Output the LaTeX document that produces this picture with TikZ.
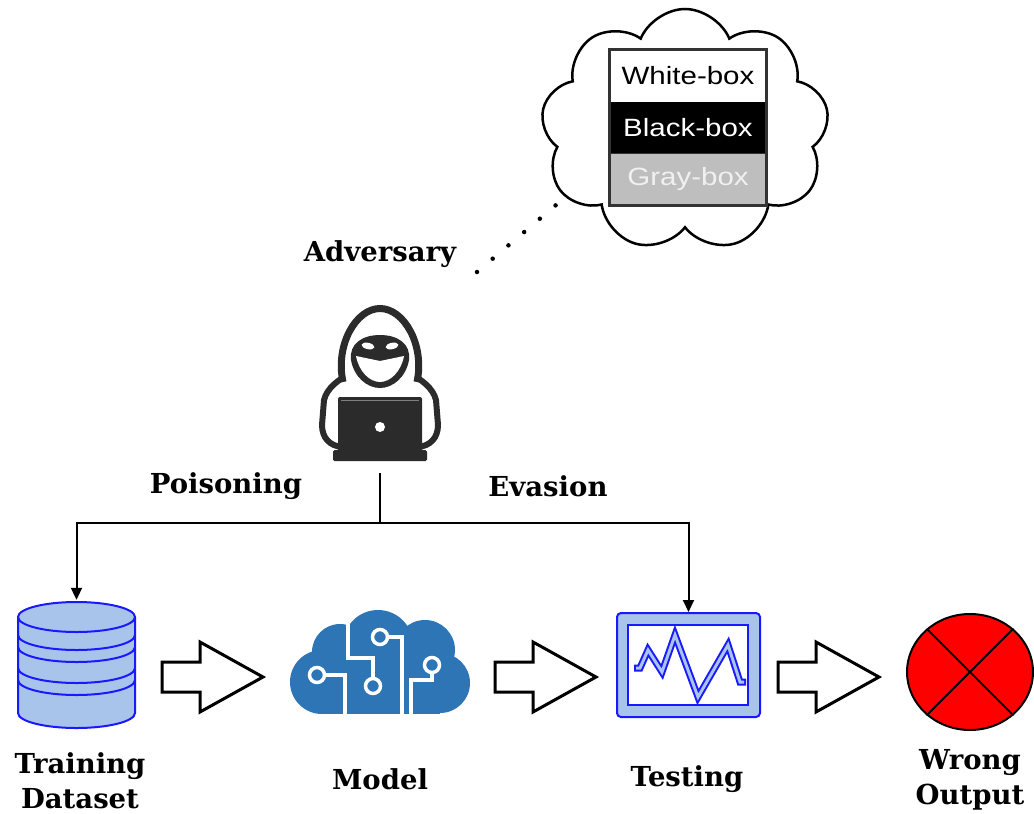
\documentclass[tikz,border=0pt]{standalone}
\usepackage{fontspec}
\usetikzlibrary{arrows.meta,shapes.symbols,shapes.geometric}
\newfontfamily\labelfont{DejaVu Serif}
\newfontfamily\tierfont[FakeStretch=1.18]{Liberation Sans}
\definecolor{hoodgray}{RGB}{43,43,43}
\definecolor{brainblue}{RGB}{46,117,182}
\definecolor{paleblue}{RGB}{169,196,235}
\definecolor{strokeblue}{RGB}{25,25,255}
\definecolor{tiergray}{RGB}{190,190,190}
\definecolor{tierborder}{RGB}{51,51,51}
\tikzset{
  lbl/.style={font=\labelfont\bfseries\fontsize{27.5}{35}\selectfont, align=center, inner sep=0},
  tier/.style={minimum width=156, minimum height=51.7, inner sep=0, font=\tierfont\fontsize{25}{30}\selectfont},
  conn/.style={line width=2, draw=black},
  tip/.style={-{Triangle[width=11pt,length=12pt]}},
  blockarrow/.pic={
    \draw[line width=3, fill=white, line join=miter]
      (0,-15) -- (38,-15) -- (38,-35) -- (101,0) -- (38,35) -- (38,15) -- (0,15) -- cycle;
  },
}
\begin{document}
\begin{tikzpicture}[x=1pt,y=-1pt]
\fill[white] (0,0) rectangle (1034,814);
\useasboundingbox (0,0) rectangle (1034,814);

% thought cloud with the three knowledge levels
\node[cloud, draw=black, line width=2.5, fill=white, cloud puffs=9, cloud puff arc=135,
      aspect=1.2, minimum width=288, minimum height=242, inner sep=0] (thought) at (685,130) {};
\node[tier, fill=white, text=black] (wb) at (688,75.8) {White-box};
\node[tier, fill=black, text=white] (bb) at (688,127.5) {Black-box};
\node[tier, fill=tiergray, text=white!94!black] (gb) at (688,179.2) {Gray-box};
\draw[tierborder, line width=1] (bb.south west) -- (bb.south east);
\draw[tierborder, line width=3] (wb.north west) rectangle (gb.south east);

% dotted trail from the adversary to the cloud
\coordinate (trailA) at (477,272);
\coordinate (trailB) at (556,205);
\draw[line width=4.5, line cap=round, dash pattern=on 0pt off 20.6pt] (trailA) -- (trailB);

\node[lbl] (adv) at (380,254) {Adversary};

% hooded figure with laptop
\node[minimum width=124, minimum height=168, inner sep=0] (hacker) at (380,389) {};
\begin{scope}
  \draw[hoodgray, fill=white, line width=6, line join=round]
    (352,372) .. controls (338,380) and (327,388) .. (324,400) -- (322,425)
    .. controls (322,438) and (330,446) .. (342,447) -- (418,447)
    .. controls (430,446) and (438,438) .. (438,425) -- (436,400)
    .. controls (433,388) and (422,380) .. (408,372) -- cycle;
  \draw[hoodgray, fill=white, line width=7]
    (343,382) .. controls (335,345) and (356,308.5) .. (380,308.5)
    .. controls (404,308.5) and (425,345) .. (417,382);
  \fill[hoodgray] (351,360) .. controls (349,344) and (362,335) .. (380,335)
    .. controls (398,335) and (411,344) .. (409,360)
    .. controls (406,377) and (393,388) .. (380,388)
    .. controls (367,388) and (354,377) .. (351,360) -- cycle;
  \fill[white] (356,356) -- (380,361) -- (404,356)
    .. controls (401,372) and (390,382) .. (380,382)
    .. controls (370,382) and (359,372) .. (356,356) -- cycle;
  \fill[white, rotate around={-12:(368,346)}] (368,346) ellipse [x radius=6.5, y radius=3.2];
  \fill[white, rotate around={12:(392,346)}] (392,346) ellipse [x radius=6.5, y radius=3.2];
  \fill[hoodgray, rounded corners=2] (338,397) rectangle (422,452);
  \fill[hoodgray, rounded corners=1.5] (333,450) rectangle (427,461);
  \draw[gray, line width=1] (341,400.5) -- (419,400.5);
  \fill[white] (380,427) circle (5);
\end{scope}

% attack paths
\coordinate (fork) at (380,523);
\node[lbl] (poison) at (226,486) {Poisoning};
\node[lbl] (evasion) at (548,486) {Evasion};

% training dataset
\node[minimum width=117, minimum height=130, inner sep=0] (db) at (76.5,665) {};
\begin{scope}[strokeblue, line width=2]
  \filldraw[fill=paleblue] (18,617) -- (18,713) arc[start angle=180, end angle=360, x radius=58.5, y radius=-15]
    -- (135,617) arc[start angle=0, end angle=180, x radius=58.5, y radius=-15] -- cycle;
  \draw (18,617) arc[start angle=180, end angle=360, x radius=58.5, y radius=-15];
  \draw (18,635) arc[start angle=180, end angle=360, x radius=58.5, y radius=-15];
  \draw (18,647) arc[start angle=180, end angle=360, x radius=58.5, y radius=-15];
  \draw (18,668) arc[start angle=180, end angle=360, x radius=58.5, y radius=-15];
  \draw (18,680) arc[start angle=180, end angle=360, x radius=58.5, y radius=-15];
\end{scope}

% model
\node[minimum width=180, minimum height=105, inner sep=0] (model) at (380,662) {};
\begin{scope}
  \fill[brainblue] (322,682) circle (32);
  \fill[brainblue] (340,652) circle (28);
  \fill[brainblue] (378,645) circle (35);
  \fill[brainblue] (425,650) circle (30);
  \fill[brainblue] (440,683) circle (30);
  \fill[brainblue] (322,660) rectangle (440,714);
  \begin{scope}[white, line width=3.5]
    \draw (348,606) -- (348,658) -- (373,658) -- (373,678);
    \draw (325,675) -- (345,675) -- (345,716);
    \draw (388,637) -- (402,637) -- (402,716);
    \draw (432,673) -- (432,680) -- (411,680) -- (411,716);
    \filldraw[fill=brainblue] (317,675) circle (7.5);
    \filldraw[fill=brainblue] (373,686) circle (7.5);
    \filldraw[fill=brainblue] (380,637) circle (7.5);
    \filldraw[fill=brainblue] (432,665) circle (7.5);
  \end{scope}
\end{scope}

% testing monitor
\node[draw=strokeblue, fill=paleblue, line width=2, rounded corners=4, minimum width=143,
      minimum height=104, inner sep=0] (test) at (688.5,665) {};
\node[draw=strokeblue, fill=white, line width=2, minimum width=120, minimum height=80,
      inner sep=0] (screen) at (688,665) {};
\draw[strokeblue, line width=7, line join=miter]
  (634,668) -- (640,668) -- (648,650) -- (662,672) -- (675,635) -- (698,697) -- (728,645) -- (740,682) -- (746,682);
\draw[paleblue, line width=3, line join=miter, shorten <=2, shorten >=2]
  (634,668) -- (640,668) -- (648,650) -- (662,672) -- (675,635) -- (698,697) -- (728,645) -- (740,682) -- (746,682);

% wrong output
\node[ellipse, draw=black, line width=2, fill=red, minimum width=126, minimum height=116,
      inner sep=0] (wrong) at (970,672) {};
\draw[line width=2] (wrong.135) -- (wrong.-45);
\draw[line width=2] (wrong.45) -- (wrong.-135);

% attack connectors
\draw[conn] (hacker.south) -- (fork);
\draw[conn, tip] (fork) -| (db.north);
\draw[conn, tip] (fork) -| (test.north);

% flow arrows
\pic at (162,677) {blockarrow};
\pic at (495,677) {blockarrow};
\pic at (778,677) {blockarrow};

% captions
\node[lbl] (dblbl) at (80,781) {Training\\Dataset};
\node[lbl] (modellbl) at (380,779) {Model};
\node[lbl] (testlbl) at (687,779) {Testing};
\node[lbl] (wronglbl) at (970,780) {Wrong\\Output};
\end{tikzpicture}
\end{document}
